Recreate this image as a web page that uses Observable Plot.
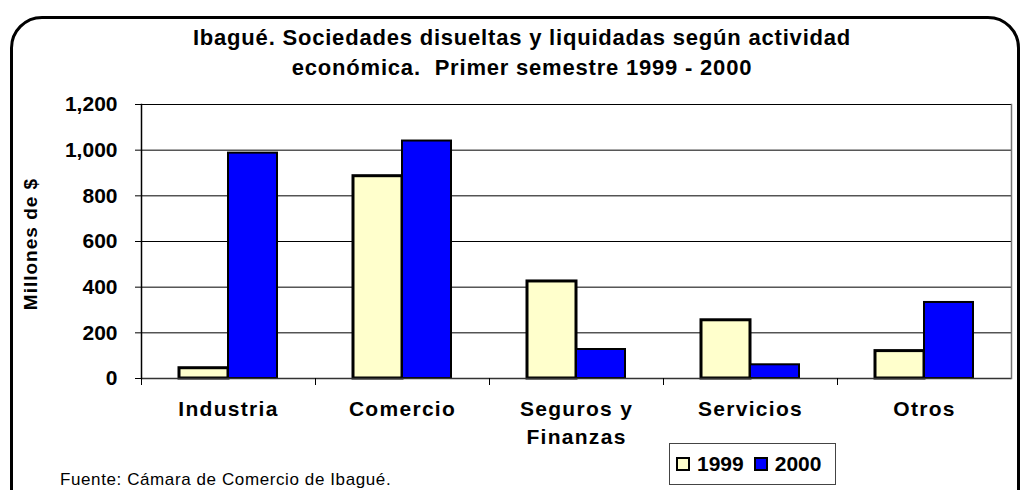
<!DOCTYPE html>
<html>
<head>
<meta charset="utf-8">
<script src="https://cdn.jsdelivr.net/npm/d3@7"></script>
<script src="https://cdn.jsdelivr.net/npm/@observablehq/plot@0.6"></script>
<style>
  html, body { margin: 0; padding: 0; background: #fff; }
  #wrap { position: relative; width: 1021px; height: 490px; overflow: hidden; font-family: "Liberation Sans", Arial, sans-serif; }
  #border { position: absolute; left: 10px; top: 16px; width: 1004px; height: 520px; border: 3.5px solid #000; border-radius: 32px; }
  #title { position: absolute; left: 0; width: 1044px; top: 23px; text-align: center; font-weight: bold; font-size: 22px; line-height: 30px; letter-spacing: 0.8px; color: #000; }
  #chart { position: absolute; left: 0; top: 90px; }
  #legend { position: absolute; left: 669px; top: 443px; width: 167px; height: 42px; border: 1px solid #444; box-sizing: border-box; background: #fff; display: flex; align-items: center; padding-left: 6px; font-weight: bold; font-size: 21px; }
  .sw { display: inline-block; width: 10px; height: 10px; border: 2.5px solid #000; margin-right: 7px; }
  .lab { margin-right: 10px; }
  #caption { position: absolute; left: 60px; top: 470px; font-size: 17px; letter-spacing: 0.6px; color: #000; }
  #ylab { position: absolute; left: 31px; top: 244px; transform: translate(-50%, -50%) rotate(-90deg); font-weight: bold; font-size: 19px; white-space: nowrap; letter-spacing: 1px; }
</style>
</head>
<body>
<div id="wrap">
  <div id="border"></div>
  <div id="title">Ibagué. Sociedades disueltas y liquidadas según actividad<br>económica.&nbsp; Primer semestre 1999 - 2000</div>
  <div id="ylab">Millones de $</div>
  <div id="chart"></div>
  <div id="legend"><span class="sw" style="background:#ffffcc"></span><span class="lab">1999</span><span class="sw" style="background:#0000ff"></span><span class="lab">2000</span></div>
  <div id="caption">Fuente: Cámara de Comercio de Ibagué.</div>
</div>
<script>
const categories = ["Industria", "Comercio", "Seguros y Finanzas", "Servicios", "Otros"];
const years = ["1999", "2000"];
const values1999 = [45, 886, 425, 255, 120];
const values2000 = [987, 1040, 127, 60, 333];
const yTicks = [0, 200, 400, 600, 800, 1000, 1200];
const colors = ["#ffffcc", "#0000ff"];

const data = [];
categories.forEach((c, i) => {
  data.push({cat: c, year: years[0], value: values1999[i]});
  data.push({cat: c, year: years[1], value: values2000[i]});
});

const marginTop = 14, marginBottom = 70, plotH = 274;
const chart = Plot.plot({
  width: 1021,
  height: marginTop + plotH + marginBottom,
  marginTop,
  marginBottom,
  marginLeft: 140,
  marginRight: 10,
  style: {fontFamily: "'Liberation Sans', Arial, sans-serif", background: "transparent", color: "#000"},
  fx: {domain: categories, padding: 0, axis: null, label: null},
  x: {domain: years, paddingInner: 0, paddingOuter: 0.742, axis: null, label: null},
  y: {domain: [0, 1200], axis: null, label: null},
  marks: [
    Plot.gridY(yTicks, {stroke: "#000", strokeOpacity: 1, strokeWidth: 1}),
    Plot.barY(data.filter(d => d.year === "1999"), {fx: "cat", x: "year", y: "value", fill: colors[0], stroke: "#000", strokeWidth: 3}),
    Plot.barY(data.filter(d => d.year === "2000"), {fx: "cat", x: "year", y: "value", fill: colors[1], stroke: "#000", strokeWidth: 2}),
    Plot.ruleY([0], {stroke: "#333", strokeWidth: 1.5}),
    Plot.frame({anchor: "left", facetAnchor: "left", stroke: "#000", strokeWidth: 1.5}),
    Plot.frame({anchor: "right", facetAnchor: "right", stroke: "#777", strokeWidth: 1.5}),
    Plot.frame({anchor: "left", insetTop: plotH, insetBottom: -6, stroke: "#000", strokeWidth: 1}),
    Plot.axisY(yTicks, {label: null, tickFormat: d3.format(","), tickSize: 6, tickPadding: 18, fontSize: 21, fontWeight: "bold", stroke: "#000"}),
    Plot.axisFx({anchor: "bottom", label: null, tickSize: 0, tickPadding: 18, fontSize: 21, fontWeight: "bold", lineHeight: 1.33,
      tickFormat: d => d.replace("y ", "y\n")})
  ]
});
chart.querySelectorAll("g[aria-label='fx-axis tick label'] text, g[aria-label^='fx-axis'] text").forEach(t => t.setAttribute("letter-spacing", "1.3"));
document.getElementById("chart").appendChild(chart);
</script>
</body>
</html>
